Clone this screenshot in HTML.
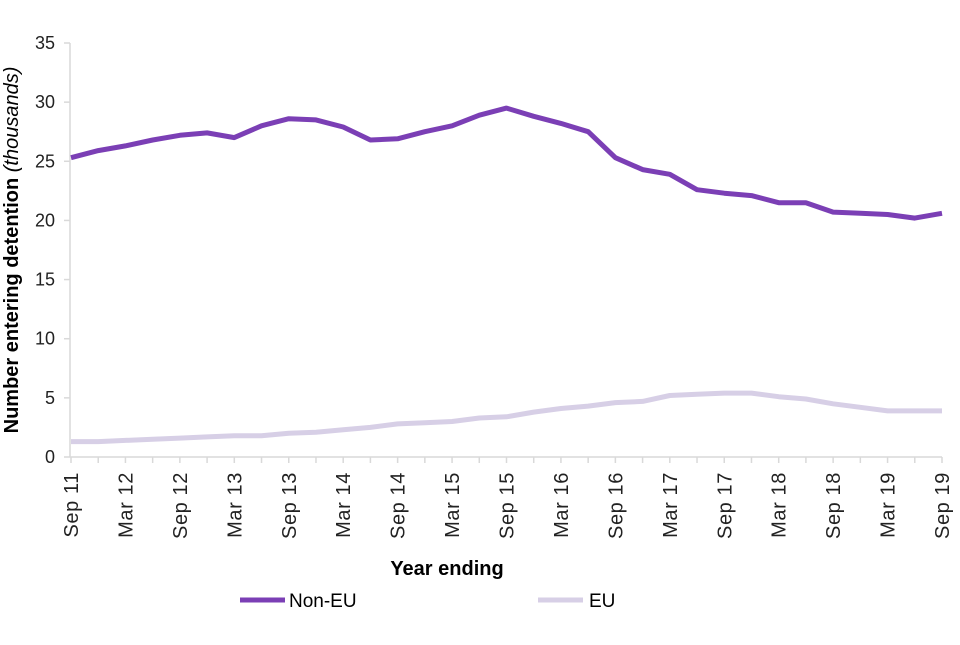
<!DOCTYPE html>
<html><head><meta charset="utf-8"><style>
body{margin:0;background:#fff;font-family:"Liberation Sans",Arial,sans-serif}
</style></head><body>
<svg width="960" height="640" xmlns="http://www.w3.org/2000/svg" font-family="Liberation Sans, Arial, sans-serif">
<g id="yaxis"></g>
<g id="xaxis"></g>
<g id="series"></g>
<text x="18" y="250" transform="rotate(-90 18 250)" text-anchor="middle" font-size="20" font-weight="bold">Number entering detention <tspan font-weight="normal" font-style="italic">(thousands)</tspan></text>
<text x="447" y="575" text-anchor="middle" font-size="20" font-weight="bold">Year ending</text>
<g>
<line x1="240" y1="600" x2="285" y2="600" stroke="#7b3fb5" stroke-width="5"/>
<text x="289" y="607" font-size="19">Non-EU</text>
<line x1="538" y1="600" x2="583" y2="600" stroke="#d7cfe6" stroke-width="5"/>
<text x="589" y="607" font-size="19">EU</text>
</g>
</svg>
<script>
const quarters=["Sep 11","Dec 11","Mar 12","Jun 12","Sep 12","Dec 12","Mar 13","Jun 13","Sep 13","Dec 13","Mar 14","Jun 14","Sep 14","Dec 14","Mar 15","Jun 15","Sep 15","Dec 15","Mar 16","Jun 16","Sep 16","Dec 16","Mar 17","Jun 17","Sep 17","Dec 17","Mar 18","Jun 18","Sep 18","Dec 18","Mar 19","Jun 19","Sep 19"];
const nonEU=[25.3,25.9,26.3,26.8,27.2,27.4,27.0,28.0,28.6,28.5,27.9,26.8,26.9,27.5,28.0,28.9,29.5,28.8,28.2,27.5,25.3,24.3,23.9,22.6,22.3,22.1,21.5,21.5,20.7,20.6,20.5,20.2,20.6];
const eu=[1.3,1.3,1.4,1.5,1.6,1.7,1.8,1.8,2.0,2.1,2.3,2.5,2.8,2.9,3.0,3.3,3.4,3.8,4.1,4.3,4.6,4.7,5.2,5.3,5.4,5.4,5.1,4.9,4.5,4.2,3.9,3.9,3.9];
const yTicks=[0,5,10,15,20,25,30,35];
const NS="http://www.w3.org/2000/svg";
const x0=71,x1=942,y0=457,y1=43,yMax=35;
const xs=i=>x0+(x1-x0)*i/(quarters.length-1);
const ys=v=>y0-(y0-y1)*v/yMax;
function mk(t,a,p){const e=document.createElementNS(NS,t);for(const k in a)e.setAttribute(k,a[k]);p.appendChild(e);return e;}
const ya=document.getElementById('yaxis'),xa=document.getElementById('xaxis'),sg=document.getElementById('series');
const axl=mk('line',{x1:70,y1:y1,x2:70,y2:y0,stroke:'#d9d9d9','stroke-width':1.5},ya);


yTicks.forEach(v=>{
 const tk=mk('line',{x1:64,x2:70,y1:ys(v),y2:ys(v),stroke:'#d9d9d9','stroke-width':1.5},ya);
 
 
 const t=mk('text',{x:55,y:ys(v)+6,'text-anchor':'end','font-size':18,fill:'#222'},ya);
 
 
 t.textContent=v;
});
const xl=mk('line',{x1:70,y1:y0,x2:x1,y2:y0,stroke:'#d9d9d9','stroke-width':1.5},xa);


quarters.forEach((q,i)=>{
 const x=xs(i);
 const tk=mk('line',{x1:x,x2:x,y1:y0,y2:y0+6,stroke:'#d9d9d9','stroke-width':1.5},xa);
 
 
 if(i%2)return;
 const t=mk('text',{x:x+7,y:472,'text-anchor':'end','font-size':20,'letter-spacing':0.6,fill:'#222',transform:`rotate(-90 ${x+7} 472)`},xa);
 
 
 t.textContent=q;
});
function line(vals,color,name){
 const d=vals.map((v,i)=>(i?'L':'M')+xs(i).toFixed(1)+','+ys(v).toFixed(1)).join('');
 const p=mk('path',{d:d,fill:'none',stroke:color,'stroke-width':5,'stroke-linejoin':'round'},sg);
 
 
}
line(eu,'#d7cfe6','eu-line');
line(nonEU,'#7b3fb5','non-eu-line');
</script>
</body></html>
